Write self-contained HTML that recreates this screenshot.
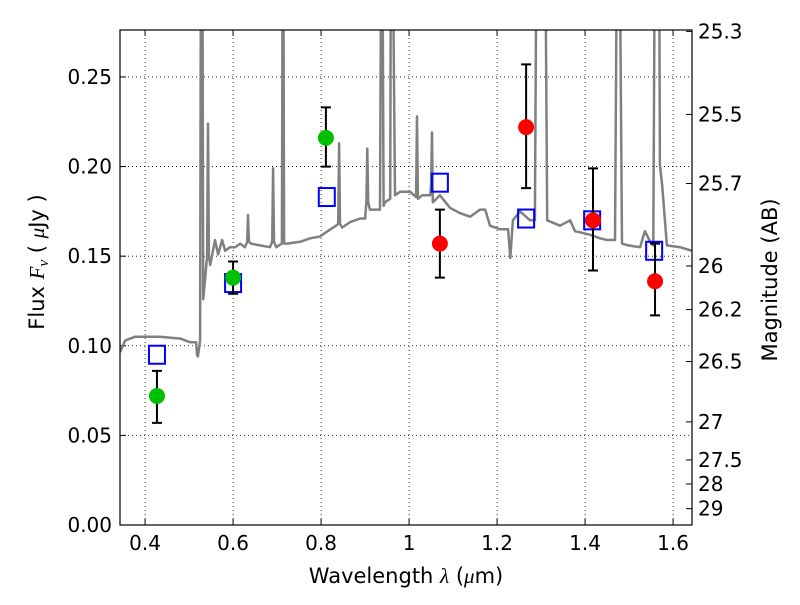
<!DOCTYPE html>
<html><head><meta charset="utf-8"><style>
html,body{margin:0;padding:0;background:#fff;}
svg text{font-family:"DejaVu Sans","Liberation Sans",sans-serif;}
</style></head><body>
<svg id="chart" width="800" height="600" xmlns="http://www.w3.org/2000/svg"></svg>
<script>
const specLam=[0.343,0.355,0.377,0.434,0.480,0.502,0.516,0.518,0.520,0.525,0.527,0.530,0.532,0.536,0.541,0.543,0.545,0.548,0.559,0.566,0.575,0.582,0.593,0.605,0.616,0.627,0.632,0.634,0.636,0.641,0.661,0.684,0.689,0.691,0.693,0.698,0.711,0.713,0.714,0.716,0.723,0.752,0.775,0.798,0.809,0.834,0.839,0.841,0.843,0.848,0.866,0.889,0.900,0.903,0.905,0.907,0.911,0.934,0.937,0.939,0.942,0.945,0.957,0.959,0.962,0.968,0.980,1.002,1.016,1.018,1.020,1.030,1.048,1.050,1.052,1.054,1.070,1.093,1.116,1.139,1.161,1.173,1.184,1.207,1.225,1.230,1.236,1.252,1.275,1.286,1.290,1.293,1.306,1.309,1.314,1.343,1.366,1.377,1.411,1.434,1.450,1.468,1.473,1.478,1.484,1.498,1.525,1.536,1.548,1.555,1.559,1.568,1.570,1.575,1.586,1.616,1.643];
const specF=[0.0965,0.103,0.105,0.105,0.104,0.102,0.102,0.095,0.094,0.103,0.35,0.35,0.126,0.136,0.150,0.224,0.150,0.145,0.159,0.151,0.159,0.153,0.155,0.155,0.157,0.155,0.158,0.173,0.158,0.157,0.156,0.155,0.158,0.199,0.158,0.155,0.157,0.35,0.35,0.157,0.157,0.158,0.160,0.161,0.163,0.167,0.168,0.213,0.168,0.166,0.169,0.171,0.171,0.18,0.210,0.18,0.176,0.176,0.35,0.35,0.178,0.180,0.182,0.35,0.35,0.184,0.186,0.186,0.183,0.228,0.182,0.184,0.184,0.19,0.219,0.18,0.184,0.177,0.174,0.172,0.176,0.176,0.167,0.165,0.165,0.149,0.170,0.175,0.170,0.170,0.35,0.35,0.35,0.35,0.170,0.167,0.170,0.164,0.162,0.160,0.159,0.159,0.35,0.35,0.157,0.156,0.155,0.164,0.158,0.156,0.35,0.35,0.201,0.190,0.156,0.155,0.153];
const greenLam=[0.427,0.600,0.811];
const greenF=[0.072,0.138,0.216];
const greenLo=[0.057,0.129,0.200];
const greenHi=[0.086,0.147,0.233];
const redLam=[1.070,1.266,1.418,1.559];
const redF=[0.157,0.222,0.170,0.136];
const redLo=[0.138,0.188,0.142,0.117];
const redHi=[0.176,0.257,0.199,0.157];
const sqLam=[0.427,0.600,0.813,1.070,1.266,1.416,1.557];
const sqF=[0.095,0.135,0.183,0.191,0.171,0.170,0.153];
const xTicks=[0.4,0.6,0.8,1.0,1.2,1.4,1.6];
const xTickLabels=["0.4","0.6","0.8","1","1.2","1.4","1.6"];
const yTicks=[0,0.05,0.10,0.15,0.20,0.25];
const yTickLabels=["0.00","0.05","0.10","0.15","0.20","0.25"];
const magTicks=[25.3,25.5,25.7,26,26.2,26.5,27,27.5,28,29];
const magTickLabels=["25.3","25.5","25.7","26","26.2","26.5","27","27.5","28","29"];

const L=120,R=692,T=30,B=525;
const xmin=0.343,xmax=1.643,ymin=0,ymax=0.2762;
const X=v=>L+(v-xmin)/(xmax-xmin)*(R-L);
const Y=v=>B-(v-ymin)/(ymax-ymin)*(B-T);
const svg=document.getElementById('chart');
const NS='http://www.w3.org/2000/svg';
function mk(tag,attrs,parent){const e=document.createElementNS(NS,tag);for(const k in attrs)e.setAttribute(k,attrs[k]);(parent||svg).appendChild(e);return e;}

const defs=mk('defs',{});
const cp=mk('clipPath',{id:'clip'},defs);
mk('rect',{x:L,y:T,width:R-L,height:B-T},cp);

// grid
xTicks.forEach((t,i)=>{
  const g=mk('line',{x1:X(t),x2:X(t),y1:T,y2:B,stroke:'#000','stroke-width':0.8,'stroke-dasharray':'1,3'});
  
  
  mk('line',{x1:X(t),x2:X(t),y1:B,y2:B-6,stroke:'#000'});
  mk('line',{x1:X(t),x2:X(t),y1:T,y2:T+6,stroke:'#000'});
  const tx=mk('text',{x:X(t),y:B+25,'text-anchor':'middle','font-size':20});
  tx.textContent=xTickLabels[i];
  
  
});
yTicks.forEach((t,i)=>{
  const g=mk('line',{x1:L,x2:R,y1:Y(t),y2:Y(t),stroke:'#000','stroke-width':0.8,'stroke-dasharray':'1,3'});
  
  
  mk('line',{x1:L,x2:L+6,y1:Y(t),y2:Y(t),stroke:'#000'});
  const tx=mk('text',{x:L-8,y:Y(t)+7,'text-anchor':'end','font-size':20});
  tx.textContent=yTickLabels[i];
  
  
});
magTicks.forEach((m,i)=>{
  const f=Math.pow(10,(23.9-m)/2.5);
  const y=Y(f);
  mk('line',{x1:R,x2:R-6,y1:y,y2:y,stroke:'#000'});
  const tx=mk('text',{x:R+6,y:y+7,'font-size':20});
  tx.textContent=magTickLabels[i];
  
  
});

// spectrum
const g=mk('g',{'clip-path':'url(#clip)'});
const pts=specLam.map((l,i)=>X(l).toFixed(1)+','+Y(specF[i]).toFixed(1)).join(' ');
const sp=mk('polyline',{points:pts,fill:'none',stroke:'#808080','stroke-width':2.5,'stroke-linejoin':'round'},g);



// squares
sqLam.forEach((l,i)=>{
  const s=mk('rect',{x:X(l)-8,y:Y(sqF[i])-9,width:16,height:18,fill:'none',stroke:'#0000ff','stroke-width':2},g);
  
  
});
function pointsWithErr(lam,f,lo,hi,col,name){
  lam.forEach((l,i)=>{
    const x=X(l);
    const e=mk('path',{d:`M${x},${Y(lo[i])}V${Y(hi[i])}M${x-5},${Y(lo[i])}H${x+5}M${x-5},${Y(hi[i])}H${x+5}`,stroke:'#000','stroke-width':2,fill:'none'},g);
    
    
    const c=mk('circle',{cx:x,cy:Y(f[i]),r:8,fill:col},g);
    
    
  });
}
pointsWithErr(greenLam,greenF,greenLo,greenHi,'#00bf00','observed-point-green');
pointsWithErr(redLam,redF,redLo,redHi,'#ff0000','observed-point-red');

// frame
const fr=mk('rect',{x:L,y:T,width:R-L,height:B-T,fill:'none',stroke:'#000','stroke-width':1.2});



// axis titles
const xt=mk('text',{x:406,y:583,'text-anchor':'middle','font-size':21});
xt.innerHTML='Wavelength  <tspan font-style="italic" font-family="Liberation Serif, serif">λ</tspan> (<tspan font-style="italic" font-family="Liberation Serif, serif">μ</tspan>m)';


const yt=mk('text',{x:0,y:0,'text-anchor':'middle','font-size':21,transform:'translate(44,262) rotate(-90)'});
yt.innerHTML='Flux  <tspan font-style="italic" font-family="Liberation Serif, serif">F</tspan><tspan font-style="italic" font-family="Liberation Serif, serif" font-size="15" dy="4">ν</tspan><tspan dy="-4">  ( </tspan><tspan font-style="italic" font-family="Liberation Serif, serif">μ</tspan>Jy )';


const rt=mk('text',{x:0,y:0,'text-anchor':'middle','font-size':21,transform:'translate(777,280) rotate(-90)'});
rt.textContent='Magnitude (AB)';


</script>
</body></html>
